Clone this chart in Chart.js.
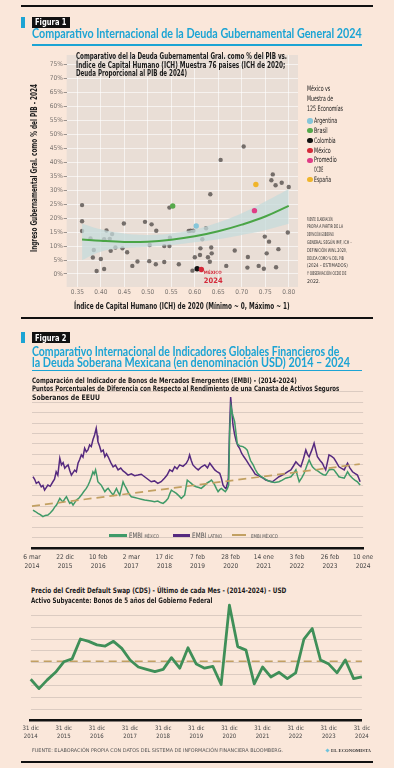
<!DOCTYPE html>
<html>
<head>
<meta charset="utf-8">
<script src="https://cdn.jsdelivr.net/npm/chart.js@4.4.1/dist/chart.umd.min.js"></script>
<style>
  body { margin: 0; width: 394px; height: 768px; position: relative; overflow: hidden; background: #fae7da; }
  canvas { position: absolute; left: 0; }
  .txt { position: absolute; white-space: nowrap; line-height: 1; transform-origin: 0 50%; }
  .box { position: absolute; }
</style>
</head>
<body>
<canvas id="ichChart" width="394" height="320" style="top:0"></canvas>
<canvas id="embiChart" width="394" height="195" style="top:380px"></canvas>
<canvas id="cdsChart" width="394" height="150" style="top:598px"></canvas>
<script>
// ---- Figura 1: deuda vs ICH ----
const ichTicks = [0.35, 0.40, 0.45, 0.50, 0.55, 0.60, 0.65, 0.70, 0.75, 0.80];
const debtTicks = [0, 5, 10, 15, 20, 25, 30, 35, 40, 45, 50, 55, 60, 65, 70, 75];

// muestra de paises (ICH 2020, deuda % PIB 2024)
const countryIch = [0.360, 0.360, 0.360, 0.378, 0.385, 0.383, 0.391, 0.400, 0.407, 0.412,
  0.407, 0.419, 0.424, 0.421, 0.431, 0.446, 0.449, 0.456, 0.467, 0.478,
  0.494, 0.508, 0.518, 0.504, 0.503, 0.517, 0.535, 0.535, 0.546, 0.547,
  0.546, 0.566, 0.587, 0.704, 0.655, 0.766, 0.763, 0.772, 0.785, 0.800,
  0.633, 0.591, 0.597, 0.624, 0.616, 0.612, 0.635, 0.636, 0.628, 0.611,
  0.600, 0.632, 0.595, 0.667, 0.685, 0.713, 0.712, 0.736, 0.747, 0.753,
  0.778, 0.773, 0.749, 0.758, 0.798];
const countryDebt = [24.7, 18.9, 15.4, 12.7, 8.6, 5.9, 1.1, 5.4, 1.8, 15.6,
  12.5, 12.6, 14.3, 8.3, 9.5, 9.2, 18.1, 7.8, 2.9, 4.5,
  18.7, 17.8, 15.5, 10.4, 4.6, 3.5, 4.3, 10.0, 10.0, 13.0,
  23.8, 3.5, 15.4, 45.7, 40.9, 35.7, 33.6, 31.8, 32.7, 31.2,
  28.6, 15.5, 15.5, 16.4, 12.5, 9.2, 9.5, 7.4, 6.0, 6.8,
  6.0, 4.4, 1.2, 2.9, 8.4, 6.1, 2.3, 2.9, 1.9, 7.4,
  8.9, 2.4, 13.4, 11.6, 14.9];

const highlightNames = ['Argentina', 'Brasil', 'Colombia', 'México', 'Promedio OCDE', 'España'];
const highlightIch = [0.603, 0.553, 0.605, 0.614, 0.727, 0.730];
const highlightDebt = [17.2, 24.4, 1.9, 1.6, 22.7, 32.1];
const highlightColors = ['#86c6d9', '#56a94b', '#111111', '#d42a3a', '#e03d86', '#f0b52a'];

// ajuste (linea verde) y banda de confianza
const trendIch = [0.36, 0.40, 0.45, 0.50, 0.55, 0.60, 0.65, 0.70, 0.75, 0.80];
const trendDebt = [12.4, 11.9, 11.5, 11.6, 12.3, 13.5, 15.3, 17.7, 20.6, 24.4];
const bandUpper = [18.0, 16.0, 14.5, 14.0, 14.5, 16.0, 18.5, 21.8, 26.0, 30.5];
const bandLower = [5.0, 8.0, 9.3, 9.8, 10.4, 11.4, 12.5, 14.0, 15.7, 18.0];

// ---- Figura 2: EMBI ----
const embiTickDay = ['6 mar', '22 dic', '10 feb', '2 mar', '17 dic', '7 feb', '28 feb', '14 ene', '3 feb', '26 feb', '10 ene'];
const embiTickYear = ['2014', '2015', '2016', '2017', '2018', '2019', '2020', '2021', '2022', '2023', '2024'];
const embiGrid = [50, 100, 150, 200, 250, 300, 350, 400, 450, 500, 550, 600, 650, 700, 750];

// [posicion en el eje (0 = 6 mar 2014 ... 10 = 10 ene 2024), puntos]
const embiLatino = [[0.03,342],[0.08,330],[0.13,310],[0.2,318],[0.28,294],[0.33,300],[0.38,278],[0.43,290],[0.48,302],[0.55,296],
  [0.63,318],[0.68,330],[0.73,366],[0.78,350],[0.84,431],[0.89,399],[0.94,410],[0.99,383],[1.04,392],[1.09,399],
  [1.14,372],[1.19,350],[1.24,362],[1.29,374],[1.34,366],[1.39,407],[1.44,425],[1.49,447],[1.54,436],[1.59,479],
  [1.64,462],[1.69,471],[1.74,495],[1.79,487],[1.84,520],[1.89,543],[1.94,575],[1.97,540],[1.99,511],[2.04,490],
  [2.09,462],[2.15,470],[2.2,438],[2.25,452],[2.3,438],[2.38,410],[2.45,390],[2.52,398],[2.6,375],[2.68,384],
  [2.75,370],[2.82,362],[2.9,350],[3.0,356],[3.1,347],[3.2,350],[3.3,354],[3.4,342],[3.5,330],[3.6,318],
  [3.7,322],[3.8,310],[3.9,318],[4.0,335],[4.08,350],[4.16,375],[4.24,368],[4.31,390],[4.38,380],[4.46,399],
  [4.56,392],[4.66,407],[4.72,425],[4.76,447],[4.81,420],[4.86,399],[4.94,385],[5.02,375],[5.12,390],[5.22,399],
  [5.3,385],[5.37,407],[5.45,390],[5.52,375],[5.6,365],[5.67,359],[5.72,335],[5.77,302],[5.82,290],[5.86,285],
  [5.9,310],[5.93,335],[5.97,591],[6.0,725],[6.04,650],[6.07,591],[6.12,545],[6.17,511],[6.22,490],[6.27,479],
  [6.33,455],[6.4,438],[6.48,420],[6.56,399],[6.62,385],[6.68,370],[6.74,355],[6.8,350],[6.91,342],[6.98,335],
  [7.06,326],[7.16,322],[7.26,318],[7.36,330],[7.46,342],[7.56,350],[7.66,359],[7.74,368],[7.82,375],[7.9,395],
  [7.97,414],[8.05,400],[8.12,390],[8.2,430],[8.27,471],[8.32,450],[8.37,438],[8.45,470],[8.52,503],[8.57,470],
  [8.62,438],[8.7,420],[8.77,407],[8.82,390],[8.87,375],[8.92,410],[8.97,447],[9.05,440],[9.12,431],[9.2,410],
  [9.27,390],[9.35,382],[9.43,375],[9.48,392],[9.53,407],[9.6,385],[9.68,366],[9.75,358],[9.83,350],[9.87,335],[9.91,318]];

const embiMexico = [[0.03,182],[0.1,175],[0.18,166],[0.25,160],[0.33,150],[0.4,156],[0.48,158],[0.55,168],[0.63,182],[0.68,195],
  [0.74,206],[0.79,222],[0.84,238],[0.89,228],[0.94,222],[0.99,236],[1.04,246],[1.09,230],[1.14,214],[1.19,220],
  [1.24,206],[1.29,218],[1.34,230],[1.42,240],[1.49,254],[1.56,270],[1.64,286],[1.69,300],[1.74,318],[1.79,340],
  [1.84,366],[1.88,355],[1.92,375],[1.96,345],[1.99,318],[2.04,310],[2.09,302],[2.15,285],[2.2,270],[2.25,280],
  [2.3,286],[2.38,268],[2.45,254],[2.5,270],[2.55,286],[2.6,268],[2.65,254],[2.7,285],[2.75,318],[2.8,300],
  [2.85,286],[2.92,262],[3.0,246],[3.1,242],[3.2,238],[3.3,234],[3.4,230],[3.5,228],[3.6,225],[3.7,222],
  [3.8,225],[3.88,218],[3.96,214],[4.04,225],[4.11,238],[4.16,260],[4.21,278],[4.28,270],[4.36,262],[4.44,250],
  [4.51,238],[4.56,246],[4.61,254],[4.65,290],[4.69,326],[4.75,318],[4.81,310],[4.88,300],[4.96,294],[5.04,290],
  [5.11,286],[5.2,298],[5.27,310],[5.35,318],[5.42,326],[5.47,315],[5.52,302],[5.57,285],[5.62,270],[5.67,280],
  [5.72,286],[5.78,278],[5.84,270],[5.9,285],[5.94,302],[5.97,560],[6.01,680],[6.06,640],[6.12,607],[6.17,540],
  [6.2,500],[6.28,490],[6.37,487],[6.44,480],[6.5,470],[6.56,440],[6.6,420],[6.68,399],[6.74,378],[6.81,359],
  [6.9,345],[7.0,335],[7.1,325],[7.21,318],[7.33,315],[7.46,318],[7.56,326],[7.66,335],[7.74,338],[7.82,342],
  [7.9,358],[7.97,375],[8.02,345],[8.07,318],[8.15,338],[8.22,359],[8.3,395],[8.37,423],[8.42,405],[8.47,390],
  [8.52,382],[8.57,375],[8.65,368],[8.72,359],[8.8,352],[8.87,350],[8.92,362],[8.97,375],[9.05,378],[9.12,375],
  [9.2,358],[9.27,342],[9.35,338],[9.43,335],[9.48,350],[9.53,366],[9.6,348],[9.68,335],[9.75,326],[9.83,318],[9.87,310],[9.91,302]];

const embiMexicoTrend = [[0, 201], [9.9, 403]];

// ---- Figura 2: CDS ----
const cdsQuarters = ['dic 2014','mar 2015','jun 2015','sep 2015','dic 2015','mar 2016','jun 2016','sep 2016','dic 2016',
  'mar 2017','jun 2017','sep 2017','dic 2017','mar 2018','jun 2018','sep 2018','dic 2018','mar 2019','jun 2019','sep 2019',
  'dic 2019','mar 2020','jun 2020','sep 2020','dic 2020','mar 2021','jun 2021','sep 2021','dic 2021','mar 2022','jun 2022',
  'sep 2022','dic 2022','mar 2023','jun 2023','sep 2023','dic 2023','mar 2024','jun 2024','sep 2024','dic 2024'];
const cdsValues = [111, 95, 110, 123, 141, 146, 180, 176, 170, 168,
  176, 164, 144, 132, 128, 124, 128, 148, 130, 165,
  137, 130, 133, 102, 238, 167, 161, 103, 132, 115,
  123, 112, 122, 180, 198, 144, 137, 122, 144, 112, 115];
const cdsAverage = 142;
const cdsGrid = [60, 80, 100, 120, 140, 160, 180, 200, 220];

// ---- estilos ----
const COND = "'Liberation Sans Narrow', 'DejaVu Sans Condensed', sans-serif";
const TITLE = "Lato, 'Open Sans', sans-serif";
const CYAN = '#1ca4d4';

function put(html, x, cy, fs, o = {}) {
  const d = document.createElement('div');
  d.className = 'txt';
  d.innerHTML = html;
  d.style.left = x + 'px';
  d.style.top = (cy - fs * 0.5) + 'px';
  d.style.fontSize = fs + 'px';
  d.style.fontFamily = o.family || COND;
  d.style.fontWeight = o.bold ? 'bold' : 'normal';
  d.style.color = o.color || '#1a1a1a';
  if (o.caps) d.style.fontVariant = 'all-small-caps';
  document.body.appendChild(d);
  if (o.w) {
    const nat = d.getBoundingClientRect().width;
    d.style.transform = `scaleX(${o.w / nat})`;
  }
  return d;
}
function rect(x, y, w, h, color) {
  const d = document.createElement('div');
  d.className = 'box';
  Object.assign(d.style, { left: x + 'px', top: y + 'px', width: w + 'px', height: h + 'px', background: color });
  document.body.appendChild(d);
  return d;
}
function figLabel(text, y) {
  rect(21, y + 0.5, 3.5, 11, CYAN);
  rect(32, y, 38, 11, '#111');
  put(text, 35.3, y + 5.6, 9.5, { bold: true, color: '#fff', w: 31.5 });
}

// ---- Figura 1 textos ----
rect(21, 5, 352, 2, '#111');
figLabel('Figura 1', 16.5);
put('Comparativo Internacional de la Deuda Gubernamental General 2024', 32, 34.5, 12.5, { bold: true, family: TITLE, color: CYAN, w: 329.7 });
rect(32, 44, 330, 1.8, CYAN);

(function () {
  const d = put('Ingreso Gubernamental Gral. como % del PIB - 2024', 0, 0, 8.5, { bold: true, w: 168 });
  d.style.transformOrigin = '0 0';
  d.style.left = '30px';
  d.style.top = '252px';
  d.style.transform = `rotate(-90deg) ${d.style.transform}`;
})();

// ---- Figura 1 grafico ----
const panelPlugin = {
  id: 'panel',
  beforeDraw(chart, args, o) {
    if (!o.color) return;
    const { ctx, chartArea: a } = chart;
    ctx.save();
    ctx.fillStyle = o.color;
    ctx.fillRect(a.left, a.top, a.width, a.height);
    ctx.restore();
  }
};
Chart.register(panelPlugin);

const mexLabel = {
  id: 'mexLabel',
  afterDatasetsDraw(chart) {
    const p = chart.getDatasetMeta(0).data[highlightNames.indexOf('México')];
    const ctx = chart.ctx;
    ctx.save();
    ctx.fillStyle = '#d42a3a';
    ctx.textBaseline = 'middle';
    ctx.font = `bold 4.5px ${COND}`;
    ctx.fillText('MÉXICO', p.x + 2.5, p.y + 3.4);
    ctx.font = `bold 7.5px ${COND}`;
    ctx.fillText('2024', p.x + 2.5, p.y + 11.4);
    ctx.restore();
  }
};

const toXY = (xs, ys) => xs.map((x, i) => ({ x, y: ys[i] }));
const noPad = (w, h) => s => {
  if (w !== null) s.width = w;
  if (h !== null) s.height = h;
  s.paddingLeft = s.paddingRight = s.paddingTop = s.paddingBottom = 0;
};

new Chart(document.getElementById('ichChart'), {
  type: 'scatter',
  data: {
    datasets: [
      { label: 'Destacados', data: toXY(highlightIch, highlightDebt), backgroundColor: highlightColors, pointRadius: 2.7, borderWidth: 0, order: 0 },
      { type: 'line', label: 'Ajuste', data: toXY(trendIch, trendDebt), borderColor: '#4aa546', borderWidth: 2, pointRadius: 0, tension: 0.4, fill: false, order: 1 },
      { type: 'line', label: 'Banda superior', data: toXY(trendIch, bandUpper), borderWidth: 0, borderColor: 'rgba(0,0,0,0)', pointRadius: 0, tension: 0.4, fill: '+1', backgroundColor: 'rgba(197,218,219,0.74)', order: 2 },
      { type: 'line', label: 'Banda inferior', data: toXY(trendIch, bandLower), borderWidth: 0, borderColor: 'rgba(0,0,0,0)', pointRadius: 0, tension: 0.4, fill: false, order: 2 },
      { label: 'Muestra', data: toXY(countryIch, countryDebt), backgroundColor: 'rgba(86,80,78,0.8)', pointRadius: 2.2, borderWidth: 0, order: 3 }
    ]
  },
  options: {
    responsive: false,
    animation: false,
    events: [],
    layout: { padding: { left: 46.7, right: 96, top: 55, bottom: 21 } },
    plugins: { legend: { display: false }, tooltip: { enabled: false }, panel: { color: '#e9ded6' } },
    scales: {
      x: {
        type: 'linear', min: 0.3273, max: 0.8197,
        afterBuildTicks: s => { s.ticks = ichTicks.map(v => ({ value: v })); },
        afterFit: noPad(null, 12),
        border: { display: false },
        grid: { color: 'rgba(255,255,255,0.6)', drawTicks: false },
        ticks: { padding: 1, autoSkip: false, maxRotation: 0, color: '#7a7470', font: { family: COND, size: 6.5 }, callback: v => v.toFixed(2) }
      },
      y: {
        min: -4.66, max: 78.5,
        afterBuildTicks: s => { s.ticks = debtTicks.map(v => ({ value: v })); },
        afterFit: noPad(20, null),
        border: { display: false },
        grid: { color: 'rgba(255,255,255,0.6)', tickColor: '#9a928d', tickLength: 3 },
        ticks: { padding: 1, autoSkip: false, color: '#7a7470', font: { family: COND, size: 6.5 }, callback: v => v + '%' }
      }
    }
  },
  plugins: [mexLabel]
});

put('Comparativo del la Deuda Gubernamental Gral. como % del PIB vs.', 76.3, 57.3, 8, { bold: true, w: 211 });
put('Índice de Capital Humano (ICH) Muestra 76 paises (ICH de 2020;', 76.3, 65.7, 8, { bold: true, w: 209.4 });
put('Deuda Proporcional al PIB de 2024)', 76.3, 74, 8, { bold: true, w: 111 });
put('Índice de Capital Humano (ICH) de 2020 (Mínimo ~ 0, Máximo ~ 1)', 73.7, 306.7, 9, { bold: true, w: 215.6 });

// leyenda
put('México vs', 307, 88.3, 7.5, { w: 23.3 });
put('Muestra de', 307, 98.3, 7.5, { w: 26 });
put('125 Economías', 307, 108.3, 7.5, { w: 36 });
const legendWordWidth = { Argentina: 23.3, Brasil: 13.7, Colombia: 21.7, 'México': 16.7, Promedio: 22.7, OCDE: 9.3, 'España': 17 };
(function () {
  let cy = 121;
  highlightNames.forEach((name, i) => {
    const dot = rect(307.3, cy - 2.7, 5.4, 5.4, highlightColors[i]);
    dot.style.borderRadius = '50%';
    const words = name === 'Promedio OCDE' ? ['Promedio', 'OCDE'] : [name];
    words.forEach(w => {
      put(w, 314.3, cy, 7.5, { w: legendWordWidth[w] });
      cy += 9.8;
    });
  });
})();

const noteLines = ['Fuente: elaboración', 'propia a partir de la', 'definición gobierno', 'general según imf, ich –',
  'definición wwl 2020,', 'deuda como % del pib', '(2024 – estimados)', 'y observación ocde de', '2022.'];
const noteWidths = [25.7, 36, 26.7, 45, 40, 36.7, 40.7, 39.3, 13.3];
noteLines.forEach((t, i) => put(t, 307, 218.3 + i * 7.8, 7.5, { caps: true, color: '#333', w: noteWidths[i] }));

rect(21, 316.8, 352, 2, '#111');

// ---- Figura 2 textos ----
figLabel('Figura 2', 331.7);
put('Comparativo Internacional de Indicadores Globales Financieros de', 32, 352.7, 12.5, { bold: true, family: TITLE, color: CYAN, w: 307.3 });
put('la Deuda Soberana Mexicana (en denominación USD) 2014 – 2024', 32, 363.7, 12.5, { bold: true, family: TITLE, color: CYAN, w: 318 });
rect(32, 369.6, 330, 1.8, CYAN);
put('Comparación del Indicador de Bonos de Mercados Emergentes (EMBI) - (2014-2024)', 32, 380.7, 7.5, { bold: true, w: 264.7 });
put('Puntos Porcentuales de Diferencia con Respecto al Rendimiento de una Canasta de Activos Seguros', 32, 389, 7.5, { bold: true, w: 307.3 });
put('Soberanos de EEUU', 32, 397.3, 7.5, { bold: true, w: 68 });

// ---- EMBI ----
const GREEN = '#3f9a68';
const PURPLE = '#55297f';
const TAN = '#c2a062';
const pairs = arr => arr.map(([x, y]) => ({ x, y }));

new Chart(document.getElementById('embiChart'), {
  type: 'line',
  data: {
    datasets: [
      { label: 'Embi México (tendencia)', data: pairs(embiMexicoTrend), borderColor: TAN, borderWidth: 1.7, borderDash: [8, 5], pointRadius: 0, order: 0 },
      { label: 'EMBI México', data: pairs(embiMexico), borderColor: GREEN, borderWidth: 1.5, pointRadius: 0, order: 1 },
      { label: 'EMBI Latino', data: pairs(embiLatino), borderColor: PURPLE, borderWidth: 1.5, pointRadius: 0, order: 2 }
    ]
  },
  options: {
    responsive: false,
    animation: false,
    events: [],
    clip: false,
    layout: { padding: { left: 32, right: 30.9, top: 11.9, bottom: 7.1 } },
    plugins: { legend: { display: false }, tooltip: { enabled: false } },
    scales: {
      x: {
        type: 'linear', min: 0, max: 10,
        afterBuildTicks: s => { s.ticks = embiTickDay.map((_, i) => ({ value: i })); },
        afterFit: noPad(null, 20),
        border: { display: true, color: '#111', width: 2.6 },
        grid: { drawOnChartArea: false, drawTicks: false },
        ticks: { padding: 5, autoSkip: false, maxRotation: 0, color: '#444', font: { family: COND, size: 6.5, lineHeight: 1.35 },
          callback: (v, i) => [embiTickDay[i], embiTickYear[i]] }
      },
      y: {
        min: 0, max: 750,
        afterBuildTicks: s => { s.ticks = embiGrid.map(v => ({ value: v })); },
        afterFit: noPad(0, null),
        border: { display: false },
        grid: { color: 'rgba(150,140,135,0.3)', drawTicks: false },
        ticks: { display: false }
      }
    }
  }
});

// leyenda EMBI
rect(109, 534, 18, 2.5, GREEN);
put('EMBI <span style="font-variant:all-small-caps">México</span>', 129, 535.3, 7.5, { color: '#555', w: 30 });
rect(172.7, 534, 17.3, 2.5, PURPLE);
put('EMBI <span style="font-variant:all-small-caps">Latino</span>', 192, 535.3, 7.5, { color: '#555', w: 30 });
rect(232.3, 534.3, 14, 1.8, TAN);
put('Embi México', 250.5, 535.3, 7.5, { color: '#555', caps: true, w: 27 });

// ---- CDS ----
put('Precio del Credit Default Swap (CDS) -  Último de cada Mes - (2014-2024) - USD', 31, 591, 7.5, { bold: true, w: 255.3 });
put('Activo Subyacente: Bonos de 5 años del Gobierno Federal', 31, 600.7, 7.5, { bold: true, w: 181.3 });

new Chart(document.getElementById('cdsChart'), {
  type: 'line',
  data: {
    labels: cdsQuarters,
    datasets: [
      { label: 'Promedio', data: [{ x: cdsQuarters[0], y: cdsAverage }, { x: cdsQuarters[cdsQuarters.length - 1], y: cdsAverage }],
        borderColor: TAN, borderWidth: 1.6, borderDash: [8, 5], pointRadius: 0, order: 1 },
      { label: 'CDS', data: cdsValues, borderColor: '#3f8f58', borderWidth: 2.8, pointRadius: 0, borderJoinStyle: 'round', order: 0 }
    ]
  },
  options: {
    responsive: false,
    animation: false,
    events: [],
    clip: false,
    layout: { padding: { left: 30.7, right: 32.1, top: 6, bottom: 7.3 } },
    plugins: { legend: { display: false }, tooltip: { enabled: false } },
    scales: {
      x: {
        type: 'category',
        afterBuildTicks: s => { s.ticks = cdsQuarters.map((q, i) => ({ value: i, q })).filter(t => t.q.startsWith('dic')); },
        afterFit: noPad(null, 20),
        border: { display: true, color: '#111', width: 2.6 },
        grid: { drawOnChartArea: false, drawTicks: false },
        ticks: { padding: 4, autoSkip: false, maxRotation: 0, color: '#444', font: { family: COND, size: 6, lineHeight: 1.3 },
          callback: v => ['31 dic', cdsQuarters[v].slice(4)] }
      },
      y: {
        min: 40, max: 240,
        afterBuildTicks: s => { s.ticks = cdsGrid.map(v => ({ value: v })); },
        afterFit: noPad(0, null),
        border: { display: false },
        grid: { color: 'rgba(150,140,135,0.3)', drawTicks: false },
        ticks: { display: false }
      }
    }
  }
});

put('Fuente: elaboración propia con datos del sistema de información financiera Bloomberg.', 32, 750, 7.5, { caps: true, color: '#555', w: 251 });
const icon = rect(326.2, 748.6, 3, 3, '#6fc3dc');
icon.style.transform = 'rotate(45deg)';
put('El Economista', 330.5, 750.2, 7, { caps: true, bold: true, family: "'Liberation Serif', 'DejaVu Serif', serif", color: '#333', w: 40 });
rect(21, 760.7, 352, 2, '#111');
</script>
</body>
</html>
